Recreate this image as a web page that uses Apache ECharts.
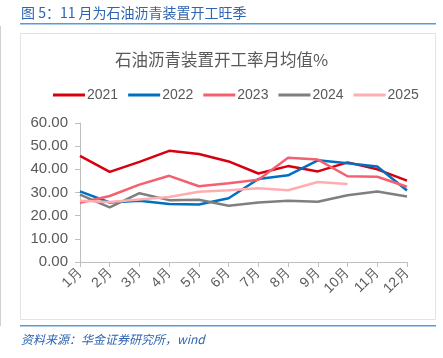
<!DOCTYPE html>
<html><head><meta charset="utf-8">
<script src="https://cdn.jsdelivr.net/npm/echarts@6/dist/echarts.min.js"></script>
<style>html,body{margin:0;padding:0;background:#fff}#c{width:443px;height:358px}</style>
</head><body><div id="c"></div>
<script>
var months = ['1月','2月','3月','4月','5月','6月','7月','8月','9月','10月','11月','12月'];
var y2021 = [45.8, 38.9, 43.2, 48.0, 46.6, 43.4, 38.2, 41.4, 39.1, 43.0, 40.0, 35.1];
var y2022 = [30.5, 25.7, 26.4, 25.0, 24.8, 27.5, 35.8, 37.4, 43.9, 42.6, 41.2, 30.9];
var y2023 = [25.6, 28.5, 33.4, 37.2, 32.7, 34.0, 35.5, 45.0, 44.2, 37.0, 36.8, 32.5];
var y2024 = [29.1, 23.6, 29.7, 26.7, 26.9, 24.3, 25.7, 26.4, 26.0, 28.8, 30.4, 28.3];
var y2025 = [26.4, 25.9, 27.0, 28.1, 30.3, 31.0, 31.8, 31.0, 34.5, 33.7];
var yTicks = [0, 10, 20, 30, 40, 50, 60];

var chart = echarts.init(document.getElementById('c'));
function s(name, data, color){
  return {name:name, type:'line', data:data, symbol:'none', smooth:false,
    lineStyle:{width:2.5, color:color}, itemStyle:{color:color}};
}
chart.setOption({
  animation:false,
  textStyle:{fontFamily:'Liberation Sans, Arial, sans-serif'},
  graphic:[
    {type:'text', left:21, top:6, style:{text:'图 5：11 月为石油沥青装置开工旺季', fill:'#2E64B0', font:'14px "Noto Sans CJK SC", sans-serif'}},
    {type:'rect', shape:{x:20, y:23, width:416, height:1.5}, style:{fill:'#5B9BD5'}},
    {type:'rect', shape:{x:20.5, y:33.5, width:415, height:286}, style:{fill:'none', stroke:'#E3E3E3', lineWidth:1}},
    {type:'rect', shape:{x:0, y:26, width:1, height:300}, style:{fill:'#D0D0D0'}},
    {type:'text', left:'center', top:51, style:{text:'石油沥青装置开工率月均值%', fill:'#595959', font:'16.5px "Noto Sans CJK SC", sans-serif'}},
    {type:'rect', shape:{x:20, y:325, width:416, height:1.5}, style:{fill:'#5B9BD5'}},
    {type:'text', left:21, top:333, style:{text:'资料来源：华金证券研究所，wind', fill:'#2E64B0', font:'italic 12px "Noto Sans CJK SC", sans-serif'}}
  ],
  legend:{top:83, left:48, itemWidth:32, itemHeight:3, itemGap:10,
    icon:'rect',
    textStyle:{fontSize:14, color:'#595959', padding:[0,0,0,-3], fontFamily:'Liberation Sans, Arial, sans-serif'},
    data:['2021','2022','2023','2024','2025']},
  grid:{left:80, right:36, top:123, bottom:96},
  xAxis:{type:'category', data:months, boundaryGap:false,
    axisLine:{lineStyle:{color:'#BFBFBF'}},
    axisTick:{show:true, alignWithLabel:true, length:5, lineStyle:{color:'#BFBFBF'}},
    axisLabel:{rotate:45, color:'#595959', fontSize:14, margin:8, interval:0}},
  yAxis:{type:'value', min:0, max:60, interval:10,
    axisLine:{show:true, lineStyle:{color:'#BFBFBF'}},
    axisTick:{show:true, inside:false, length:5, lineStyle:{color:'#BFBFBF'}},
    splitLine:{show:false},
    axisLabel:{color:'#595959', fontSize:15, margin:12, formatter:function(v){return v.toFixed(2);}}},
  series:[
    s('2021', y2021, '#D7000F'),
    s('2022', y2022, '#0070C0'),
    s('2023', y2023, '#F4606F'),
    s('2024', y2024, '#7F7F7F'),
    s('2025', y2025, '#FFADB1')
  ]
});
</script></body></html>
